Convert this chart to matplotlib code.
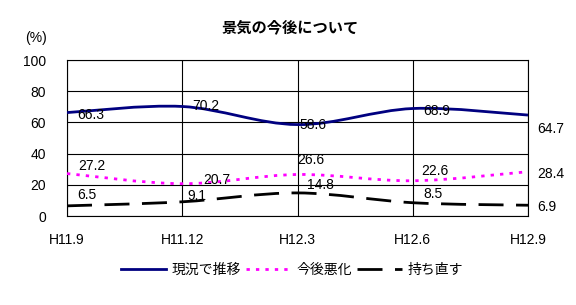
import numpy as np
import matplotlib
matplotlib.use("Agg")
import matplotlib.pyplot as plt
from matplotlib.path import Path
from matplotlib.patches import PathPatch
from matplotlib.lines import Line2D

plt.rcParams['font.family'] = ['Liberation Sans', 'Noto Sans CJK JP', 'DejaVu Sans']

#------------------------------------------------------------------
periods   = ["H11.9", "H11.12", "H12.3", "H12.6", "H12.9"]
genkyo    = [66.3, 70.2, 58.6, 68.9, 64.7]   # 現況で推移
akka      = [27.2, 20.7, 26.6, 22.6, 28.4]   # 今後悪化
mochinao  = [6.5, 9.1, 14.8, 8.5, 6.9]       # 持ち直す
names     = ["現況で推移", "今後悪化", "持ち直す"]

# label offsets in pixels (dx right, dy down)
offs_genkyo   = [(10, 2), (10, 0), (2, 0), (10, 2), (9, 14)]
offs_akka     = [(11, -8), (21, -4), (0, -15), (9, -10), (9, 2)]
offs_mochinao = [(10, -11), (5, -6), (10, -8), (11, -9), (9, 2)]

#------------------------------------------------------------------
def smooth_path(xs, ys):
    # bezier through the points, excel style smoothing
    pts = np.column_stack([xs, ys]).astype(float)
    n = len(pts)
    verts = [pts[0]]
    codes = [Path.MOVETO]
    for i in range(n - 1):
        p0 = pts[i - 1] if i > 0 else pts[i]
        p1 = pts[i]
        p2 = pts[i + 1]
        p3 = pts[i + 2] if i + 2 < n else pts[i + 1]
        c1 = p1 + (p2 - p0) / 6.0
        c2 = p2 - (p3 - p1) / 6.0
        verts += [c1, c2, p2]
        codes += [Path.CURVE4] * 3
    return Path(verts, codes)

#------------------------------------------------------------------
fig = plt.figure(figsize=(5.76, 3.05), dpi=100)
ax = fig.add_axes([67/576, 1-216/305, (528-67)/576, (216-60)/305])

x = np.arange(len(periods))
styles = [
    dict(color="#000080", lw=2.0, ls="-"),
    dict(color="#FF00FF", lw=2.0, ls=(0, (1.2, 2.2))),
    dict(color="#000000", lw=2.0, ls=(0, (9, 4.5))),
]
series = [genkyo, akka, mochinao]
offsets = [offs_genkyo, offs_akka, offs_mochinao]

handles = []
for vals, st, offs, nm in zip(series, styles, offsets, names):
    patch = PathPatch(smooth_path(x, vals), facecolor="none", edgecolor=st["color"],
                      lw=st["lw"], linestyle=st["ls"], capstyle="butt", zorder=3)
    ax.add_patch(patch)
    for xi, v, (dx, dy) in zip(x, vals, offs):
        ax.annotate(f"{v}", (xi, v), xytext=(dx * 0.72, -dy * 0.72),
                    textcoords="offset points", ha="left", va="center",
                    fontsize=10, zorder=4, annotation_clip=False)
    handles.append(Line2D([], [], color=st["color"], lw=st["lw"], ls=st["ls"], label=nm))

ax.set_xlim(0, len(periods) - 1)
ax.set_ylim(0, 100)
ax.set_xticks(x)
ax.set_xticklabels(periods)
ax.set_yticks(range(0, 101, 20))
ax.tick_params(length=0, labelsize=10)
ax.tick_params(axis="y", pad=15)
ax.tick_params(axis="x", pad=12)
ax.grid(True, color="black", lw=0.8)
ax.set_axisbelow(True)
for s in ax.spines.values():
    s.set_linewidth(0.8)

fig.text(290/576, 1-28/305, "景気の今後について", ha="center", va="center",
         fontsize=11, fontweight="bold")
fig.text(36/576, 1-38/305, "(%)", ha="center", va="center", fontsize=10)

fig.legend(handles=handles, loc="center", bbox_to_anchor=(292/576, 1-270/305),
           ncol=3, frameon=False, fontsize=10, handlelength=3.2,
           handletextpad=0.4, columnspacing=0.4)

fig.savefig("out.png", dpi=100)
